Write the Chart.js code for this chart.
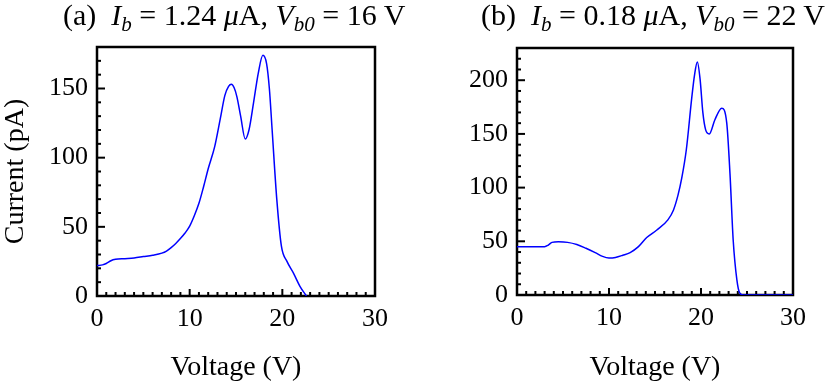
<!DOCTYPE html>
<html>
<head>
<meta charset="utf-8">
<script src="https://cdn.jsdelivr.net/npm/chart.js@4"></script>
<style>
  html, body { margin: 0; padding: 0; background: #fff; }
  body { width: 830px; height: 389px; position: relative; overflow: hidden; font-family: "Liberation Serif", serif; }
  .panel { position: absolute; top: 0; width: 415px; height: 389px; }
  .ttl { position: absolute; top: 0; font-size: 30px; line-height: 30px; white-space: pre; color: #000; }
  .ttl .sb { font-size: 21px; font-style: italic; position: relative; top: 6px; }
</style>
</head>
<body>
<div class="panel" style="left:0"><canvas id="chartA"></canvas></div>
<div class="panel" style="left:415px"><canvas id="chartB"></canvas></div>
<div class="ttl" style="left:63px">(a)  <i>I</i><span class="sb">b</span> = 1.24 <i>μ</i>A, <i>V</i><span class="sb">b0</span> = 16 V</div>
<div class="ttl" style="left:481px">(b)  <i>I</i><span class="sb">b</span> = 0.18 <i>μ</i>A, <i>V</i><span class="sb">b0</span> = 22 V</div>
<script>
// panel (a): Ib = 1.24 uA
const voltageA = [0, 0.6, 1, 1.5, 2, 3, 4, 5, 6, 7, 7.5, 8, 8.5, 9, 9.5, 10, 10.5, 11, 11.5, 12, 12.7, 13.3, 13.8, 14.2, 14.5, 14.8, 15.1, 15.5, 16, 16.4, 16.9, 17.4, 17.9, 18.3, 18.6, 18.9, 19.4, 19.9, 20.5, 21.2, 21.9, 22.6];
const currentA = [22, 22.5, 23.5, 25.5, 26.5, 27, 27.5, 28.5, 29.5, 31, 32.5, 35, 38, 41.5, 45.5, 50.5, 58, 67, 79, 92, 108, 128, 145, 151.5, 153, 150.5, 144, 130, 113.5, 120, 140, 161, 174, 168, 150, 120, 70, 36, 25, 16.5, 7, 0];

// panel (b): Ib = 0.18 uA
const voltageB = [0, 1, 2, 3, 3.4, 3.8, 4.5, 5.5, 6.5, 7.5, 8.5, 9.3, 10, 10.7, 11.5, 12.3, 13.2, 14.1, 15.2, 16.4, 17, 17.5, 17.9, 18.4, 19, 19.3, 19.6, 19.9, 20.2, 20.5, 20.9, 21.5, 22.25, 22.8, 23.15, 23.5, 23.9, 24.2, 24.6, 26, 28, 30];
const currentB = [45, 45, 45, 45, 46.5, 49, 49.5, 49, 47, 43.5, 39.5, 36, 34.5, 35, 37, 39.5, 45, 53.5, 60.5, 70, 79, 93, 108.5, 135, 184, 205, 217, 201, 170, 154, 150, 163, 174, 160, 113, 51, 14, 2, 0, 0, 0, 0];

const xTicks = [0, 10, 20, 30];
const yTicksA = [0, 50, 100, 150];
const yTicksB = [0, 50, 100, 150, 200];

const serif = '"Liberation Serif", "Times New Roman", serif';

// frame + inward minor/major ticks, Mathematica style
const frameTicks = {
    id: 'frameTicks',
    beforeDatasetsDraw(chart, args, opts) {
        const { ctx, chartArea: a, scales: { x, y } } = chart;
        ctx.save();
        ctx.strokeStyle = '#000';
        ctx.lineWidth = 2;
        for (let v = x.min; v <= x.max; v += opts.xMinor) {
            const px = x.getPixelForValue(v);
            const len = v % opts.xMajor === 0 ? 7 : 4;
            ctx.beginPath();
            ctx.moveTo(px, a.bottom);
            ctx.lineTo(px, a.bottom - len);
            ctx.stroke();
        }
        for (let v = y.min; v <= y.max; v += opts.yMinor) {
            const py = y.getPixelForValue(v);
            const len = v % opts.yMajor === 0 ? 8 : 4;
            ctx.beginPath();
            ctx.moveTo(a.left, py);
            ctx.lineTo(a.left + len, py);
            ctx.stroke();
        }
        ctx.lineWidth = 2.5;
        ctx.strokeRect(a.left, a.top, a.width, a.height);
        ctx.restore();
    }
};

function makeChart(id, xs, ys, yMax, yTicks, yWidth, xHeight, pad, showYTitle) {
    const ctx = document.getElementById(id).getContext('2d');
    return new Chart(ctx, {
        type: 'scatter',
        data: {
            datasets: [{
                data: xs.map((v, i) => ({ x: v, y: ys[i] })),
                showLine: true,
                borderColor: '#0000ff',
                borderWidth: 1.5,
                pointRadius: 0,
                cubicInterpolationMode: 'monotone'
            }]
        },
        plugins: [frameTicks],
        options: {
            responsive: true,
            maintainAspectRatio: false,
            animation: false,
            layout: { padding: pad },
            plugins: {
                legend: { display: false },
                tooltip: { enabled: false },
                frameTicks: { xMinor: 1, xMajor: 10, yMinor: 10, yMajor: 50 }
            },
            scales: {
                x: {
                    type: 'linear',
                    min: 0,
                    max: 30,
                    afterBuildTicks: s => { s.ticks = xTicks.map(v => ({ value: v })); },
                    afterFit: s => { s.height = xHeight; },
                    grid: { display: false, drawTicks: false, tickLength: 0 },
                    border: { display: false },
                    ticks: { color: '#000', padding: 8, maxRotation: 0, font: { family: serif, size: 26 } },
                    title: {
                        display: true,
                        text: 'Voltage (V)',
                        color: '#000',
                        padding: { top: 0, bottom: 5 },
                        font: { family: serif, size: 28 }
                    }
                },
                y: {
                    type: 'linear',
                    min: 0,
                    max: yMax,
                    afterBuildTicks: s => { s.ticks = yTicks.map(v => ({ value: v })); },
                    afterFit: s => { s.width = yWidth; },
                    grid: { display: false, drawTicks: false, tickLength: 0 },
                    border: { display: false },
                    ticks: { color: '#000', padding: 9, font: { family: serif, size: 26 } },
                    title: {
                        display: showYTitle,
                        text: 'Current (pA)',
                        color: '#000',
                        padding: { top: 0, bottom: 0 },
                        font: { family: serif, size: 28, lineHeight: 1.1 }
                    }
                }
            }
        }
    });
}

makeChart('chartA', voltageA, currentA, 180, yTicksA, 97, 93, { top: 47, right: 40, left: 0, bottom: 0 }, true);
makeChart('chartB', voltageB, currentB, 230, yTicksB, 102, 94, { top: 48, right: 37, left: 0, bottom: 0 }, false);
</script>
</body>
</html>
